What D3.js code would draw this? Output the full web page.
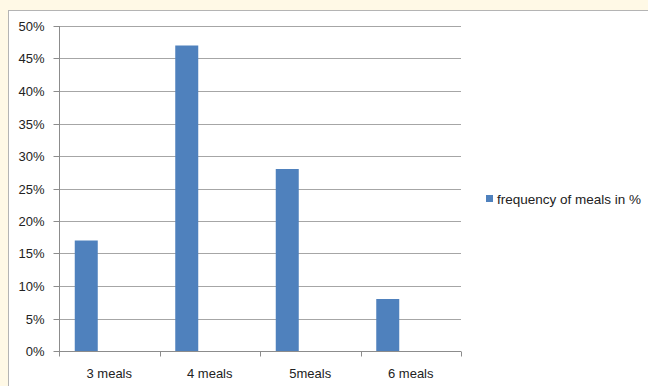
<!DOCTYPE html>
<html>
<head>
<meta charset="utf-8">
<script src="https://cdn.jsdelivr.net/npm/d3@7"></script>
<style>
  html, body { margin: 0; padding: 0; background: #fff9e6; }
  svg { display: block; font-family: "Liberation Sans", Arial, sans-serif; }
</style>
</head>
<body>
<svg id="chart" width="648" height="386"></svg>
<script>
const categories = ["3 meals", "4 meals", "5meals", "6 meals"];
const seriesName = "frequency of meals in %";
const values = [17, 47, 28, 8];
const yTicks = [0, 5, 10, 15, 20, 25, 30, 35, 40, 45, 50];
// excel left room for three series per category, only the first is used
const slots = [0, 1, 2];

const width = 648, height = 386;
const margin = { top: 26, right: 187, bottom: 35, left: 59 };
const w = width - margin.left - margin.right;
const h = height - margin.top - margin.bottom;

const svg = d3.select("#chart");

// chart frame
svg.append("rect")
  .attr("x", 8.5).attr("y", 10.5)
  .attr("width", width).attr("height", height)
  .attr("fill", "#fff")
  .attr("stroke", "#b4b4b4");

const x = d3.scaleBand().domain(categories).range([0, w]).padding(0);
const x1 = d3.scaleBand().domain(slots).range([0, x.bandwidth()]).paddingInner(0).paddingOuter(0.685);
const y = d3.scaleLinear().domain([0, 50]).range([h, 0]);

const g = svg.append("g").attr("transform", `translate(${margin.left},${margin.top})`);

// gridlines
g.append("g")
  .selectAll("line")
  .data(yTicks.filter(d => d > 0))
  .join("line")
  .attr("x1", 0).attr("x2", w)
  .attr("y1", d => Math.round(y(d)) + 0.5).attr("y2", d => Math.round(y(d)) + 0.5)
  .attr("stroke", "#a6a6a6");

// bars
g.selectAll(".bar")
  .data(values)
  .join("rect")
  .attr("class", "bar")
  .attr("x", (d, i) => x(categories[i]) + x1(0))
  .attr("y", d => y(d))
  .attr("width", x1.bandwidth())
  .attr("height", d => h - y(d))
  .attr("fill", "#4f81bd");

// y axis
const yAxis = g.append("g")
  .attr("transform", "translate(0.5,0)")
  .call(d3.axisLeft(y).tickValues(yTicks).tickFormat(d => d + "%").tickSize(6).tickPadding(9));
yAxis.selectAll("line, path").attr("stroke", "#8c8c8c");
yAxis.selectAll(".tick").attr("transform", d => `translate(0,${Math.round(y(d)) + 0.5})`);
yAxis.select(".domain").attr("d", `M0,0V${h}`);
yAxis.selectAll("text").attr("font-size", 13).attr("fill", "#222").attr("font-family", null);

// x axis
const xAxis = g.append("g")
  .attr("transform", `translate(0,${Math.round(h) + 0.5})`)
  .call(d3.axisBottom(x).tickSize(0).tickPadding(17));
xAxis.select(".domain").attr("d", `M0,0H${w}`).attr("stroke", "#8c8c8c");
xAxis.selectAll("text").attr("font-size", 13).attr("fill", "#222").attr("font-family", null);
xAxis.selectAll(".sep")
  .data(d3.range(categories.length + 1))
  .join("line")
  .attr("class", "sep")
  .attr("x1", i => Math.round(i * x.step()) + 0.5).attr("x2", i => Math.round(i * x.step()) + 0.5)
  .attr("y1", 0).attr("y2", 5)
  .attr("stroke", "#8c8c8c");

// legend
const legend = svg.append("g").attr("transform", "translate(486,195)");
legend.append("rect").attr("width", 7).attr("height", 7).attr("fill", "#4f81bd");
legend.append("text")
  .attr("x", 11).attr("y", 8.5)
  .attr("font-size", 13.5)
  .attr("fill", "#222")
  .text(seriesName);
</script>
</body>
</html>
